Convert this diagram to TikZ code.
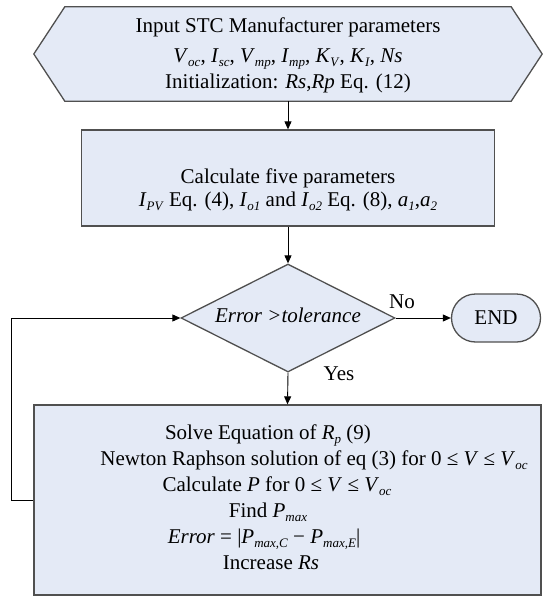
\documentclass[tikz,border=0pt]{standalone}
\usepackage{fontspec}
\setmainfont{Liberation Serif}
\usetikzlibrary{arrows.meta,shapes.geometric,shapes.misc}
\definecolor{edgegray}{RGB}{80,80,80}
\definecolor{boxfill}{RGB}{228,234,246}
\newcommand{\vsb}[2]{\textit{#1}\raisebox{-4pt}{\fontsize{13}{13}\selectfont\textit{#2}}}
\begin{document}
\begin{tikzpicture}[x=1pt,y=-1pt,
  shapebox/.style={draw=edgegray, line width=1.3pt, fill=boxfill},
  txt/.style={font=\fontsize{21}{25}\selectfont, inner sep=0pt, anchor=base},
  conn/.style={draw=black, line width=0.9pt},
  arr/.style={conn, -{Triangle[length=8pt,width=7pt]}}]
\useasboundingbox (0,0) rectangle (543,597);
% input hexagon
\node[minimum width=508pt, minimum height=94pt, inner sep=0pt] (hex) at (288,54) {};
\draw[shapebox] (hex.west) -- ([xshift=31pt]hex.north west) -- ([xshift=-31pt]hex.north east)
  -- (hex.east) -- ([xshift=-31pt]hex.south east) -- ([xshift=31pt]hex.south west) -- cycle;
\node[txt] (h1) at (288,32) {Input STC Manufacturer parameters};
\node[txt] (h2) at (288,62) {\vsb{V}{oc}, \vsb{I}{sc}, \vsb{V}{mp}, \vsb{I}{mp}, \vsb{K}{V}, \vsb{K}{I}, \textit{Ns}};
\node[txt] (h3) at (288,88) {Initialization: \textit{Rs},\textit{Rp} Eq. (12)};
% calculate box
\node[shapebox, minimum width=413pt, minimum height=96pt, inner sep=0pt] (calc) at (288,178) {};
\node[txt] (c1) at (288,183) {Calculate five parameters};
\node[txt] (c2) at (288,206) {\vsb{I}{PV} Eq. (4), \vsb{I}{o1} and \vsb{I}{o2} Eq. (8), \vsb{a}{1},\vsb{a}{2}};
% decision
\node[shapebox, diamond, minimum width=214pt, minimum height=108pt, aspect=1.98, inner sep=0pt] (dec) at (288,318) {};
\node[txt] (dt) at (288,322) {\textit{Error >tolerance}};
% end
\node[shapebox, rounded rectangle, minimum width=89pt, minimum height=48pt, inner sep=0pt,
  font=\fontsize{21}{25}\selectfont] (end) at (496,318) {END};
% solve box
\node[shapebox, minimum width=507pt, minimum height=190pt, inner sep=0pt] (solve) at (287.5,500) {};
\node[txt] (s1) at (268,439) {Solve Equation of \vsb{R}{p} (9)};
\node[txt] (s2) at (314,465) {Newton Raphson solution of eq (3) for 0 ≤ \textit{V} ≤ \vsb{V}{oc}};
\node[txt] (s3) at (277,491) {Calculate \textit{P} for 0 ≤ \textit{V} ≤ \vsb{V}{oc}};
\node[txt] (s4) at (268,517) {Find \vsb{P}{max}};
\node[txt] (s5) at (264,543) {\textit{Error} = |\vsb{P}{max,C} − \vsb{P}{max,E}|};
\node[txt] (s6) at (271,569) {Increase \textit{Rs}};
% labels
\node[txt] (no) at (402,308) {No};
\node[txt] (yes) at (339,380) {Yes};
% connectors
\coordinate (loopc) at (11,500);
\draw[arr] (hex.south) -- (calc.north);
\draw[arr] (calc.south) -- (dec.north);
\draw[arr] (dec.east) -- (end.west);
\draw[arr] (dec.south) -- (solve.north);
\draw[arr] (solve.west) -- (loopc) |- (dec.west);
\end{tikzpicture}
\end{document}
